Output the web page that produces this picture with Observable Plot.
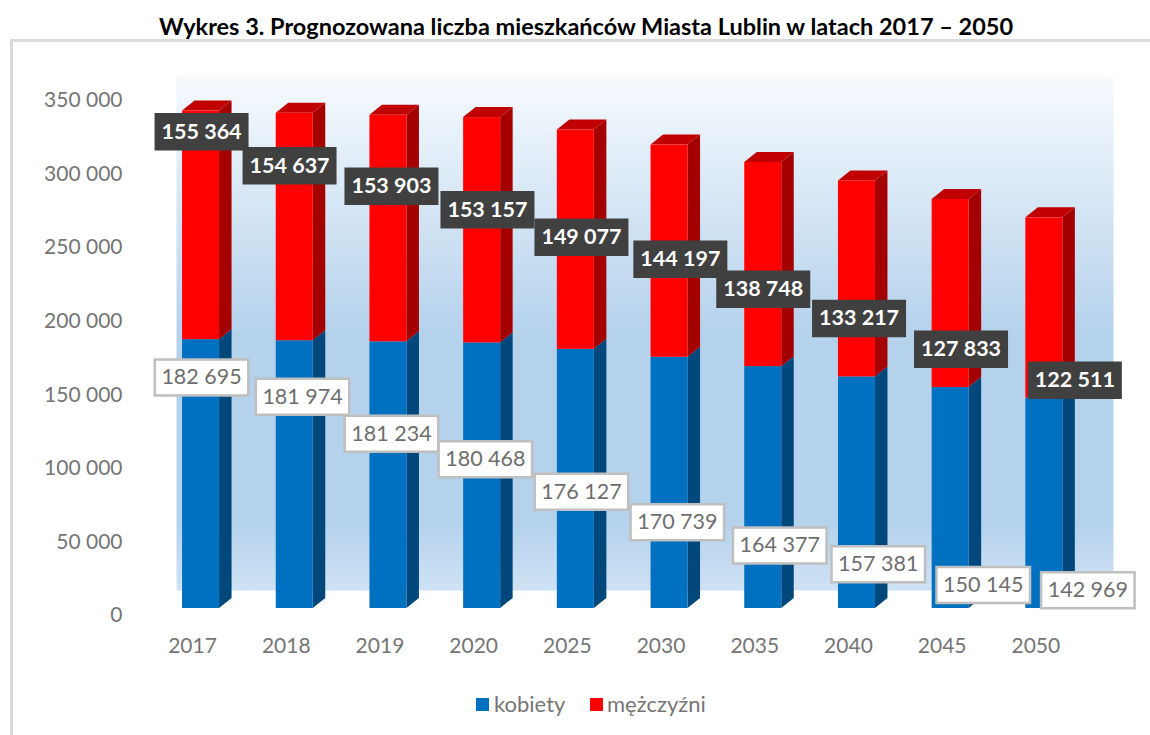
<!DOCTYPE html>
<html lang="pl">
<head>
<meta charset="utf-8">
<script src="https://cdn.jsdelivr.net/npm/d3@7"></script>
<script src="https://cdn.jsdelivr.net/npm/@observablehq/plot@0.6"></script>
<style>
  html, body { margin: 0; padding: 0; background: #fff; overflow: hidden; }
  body { width: 1150px; height: 735px; font-family: Lato, sans-serif; }
  #title { height: 39px; line-height: 52px; text-align: center; font-weight: 700; font-size: 23.5px; color: #000; padding-left: 22px; box-sizing: border-box; white-space: nowrap; }
  #panel { margin-left: 10px; border-left: 3px solid #d9d9d9; border-top: 3px solid #d9d9d9; width: 1137px; height: 693px; }
  #panel svg { display: block; }
  #legend { position: relative; height: 46px; color: #757575; font-size: 22px; }
  #legend span { position: absolute; white-space: nowrap; }
  #legend .sw { width: 13px; height: 13px; top: 9px; }
</style>
</head>
<body>
<div id="title">Wykres 3. Prognozowana liczba mieszkańców Miasta Lublin w latach 2017 – 2050</div>
<div id="panel">
  <div id="chart"></div>
  <div id="legend">
    <span class="sw" style="left:463px;background:#0070c0"></span><span style="left:481px;top:1px">kobiety</span>
    <span class="sw" style="left:577px;background:#ff0000"></span><span style="left:594px;top:1px">mężczyźni</span>
  </div>
</div>
<script>
const years = ["2017","2018","2019","2020","2025","2030","2035","2040","2045","2050"];
const women = [182695,181974,181234,180468,176127,170739,164377,157381,150145,142969];
const men = [155364,154637,153903,153157,149077,144197,138748,133217,127833,122511];
const yTicks = [0,50000,100000,150000,200000,250000,300000,350000];

// hand-placed label offsets, in pixels from the middle of each bar segment
const womenLabelDx = [0.5,7.8,3,3.2,5.6,7.8,16.5,21.3,32.6,43.5];
const womenLabelDy = [-96.6,-77.9,-41.4,-16.4,12.8,39.3,57.9,71.5,87,86.9];
const menLabelDx = [0.5,-5.2,3,5.3,5.6,10.8,0,2.1,10.4,30.5];
const menLabelDy = [-93.6,-61.2,-42.3,-20.6,-2.5,8,24.6,39.6,55.7,72.2];

const fmt = d => d3.format(",")(d).replace(/,/g, " ");
const rows = years.flatMap((year, i) => [
  {year, series: "kobiety", value: women[i]},
  {year, series: "mężczyźni", value: men[i]}
]);

const depthX = 12.5, depthY = 10;
const box = (w, h) => ({draw(ctx) { ctx.rect(-w / 2, -h / 2, w, h); }});

function gradientDefs() {
  const defs = d3.create("svg:defs");
  const g = defs.append("linearGradient").attr("id", "wall").attr("x1", 0).attr("x2", 0).attr("y1", 0).attr("y2", 1);
  [[0, "#f6fafe"], [0.5, "#b5d2ec"], [0.87, "#b5d2ec"], [1, "#cfe2f5"]].forEach(([o, c]) =>
    g.append("stop").attr("offset", o).attr("stop-color", c));
  return defs.node();
}

// the 3-D side and top faces, placed through the chart's own scales
function depthFaces(index, {x, y}) {
  const bw = typeof x.bandwidth === "function" ? x.bandwidth() : x.bandwidth;
  const g = d3.create("svg:g");
  const poly = (pts, fill) => g.append("polygon").attr("points", pts.map(p => p.join(",")).join(" ")).attr("fill", fill);
  years.forEach((year, i) => {
    const xl = x(year), xr = xl + bw;
    const y0 = y(0), y1 = y(women[i]), y2 = y(women[i] + men[i]);
    poly([[xr, y0], [xr + depthX, y0 - depthY], [xr + depthX, y1 - depthY], [xr, y1]], "#00487c");
    poly([[xr, y1], [xr + depthX, y1 - depthY], [xr + depthX, y2 - depthY], [xr, y2]], "#a50000");
    poly([[xl, y2], [xl + depthX, y2 - depthY], [xr + depthX, y2 - depthY], [xr, y2]], "#c00000");
  });
  return g.node();
}

function labelMarks(year, yValue, value, dx, dy, symbol, boxFill, boxStroke, textFill, weight) {
  const d = [{year, yValue, value}];
  return [
    Plot.dot(d, {x: "year", y: "yValue", symbol, fill: boxFill, stroke: boxStroke, strokeWidth: 2.5, dx, dy}),
    Plot.text(d, {x: "year", y: "yValue", text: e => fmt(e.value), fill: textFill, fontWeight: weight, fontSize: 21.5, dx, dy})
  ];
}

const chart = Plot.plot({
  width: 1137,
  height: 647,
  marginLeft: 163,
  marginRight: 37,
  marginTop: 34,
  marginBottom: 99,
  style: {fontFamily: "Lato, sans-serif", background: "transparent", overflow: "visible"},
  x: {type: "band", domain: years, range: [140.7, 1077.7], paddingInner: 0.605, paddingOuter: 0.3025, round: false, label: null},
  y: {domain: [0, 350000], range: [566, 51], label: null},
  color: {domain: ["kobiety", "mężczyźni"], range: ["#0070c0", "#ff0000"]},
  marks: [
    gradientDefs,
    Plot.frame({fill: "url(#wall)", stroke: "none"}),
    Plot.axisY({ticks: yTicks, tickFormat: fmt, tickSize: 0, tickPadding: 54, fontSize: 21, color: "#757575", dy: 7, label: null}),
    Plot.axisX({tickSize: 0, tickPadding: 48, fontSize: 21, color: "#757575", dx: -8.5, label: null}),
    depthFaces,
    Plot.barY(rows, {x: "year", y: "value", fill: "series", order: ["kobiety", "mężczyźni"]}),
    ...years.flatMap((year, i) => labelMarks(year, women[i] + men[i] / 2, men[i], menLabelDx[i], menLabelDy[i], box(94, 37.5), "#404040", "none", "#fff", 700)),
    ...years.flatMap((year, i) => labelMarks(year, women[i] / 2, women[i], womenLabelDx[i], womenLabelDy[i], box(93.5, 36), "#fff", "#bfbfbf", "#6e6e6e", 400))
  ]
});
document.getElementById("chart").appendChild(chart);
</script>
</body>
</html>
